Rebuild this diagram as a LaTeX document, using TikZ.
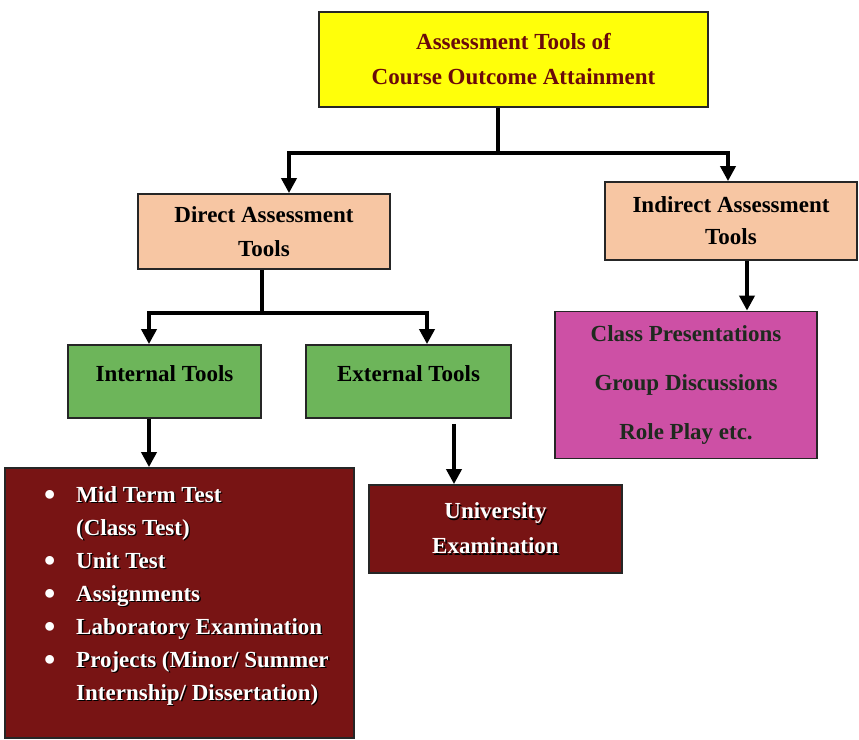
\documentclass[tikz,border=0pt]{standalone}
\usepackage{fontspec}
\setmainfont{Liberation Serif}
\usetikzlibrary{arrows.meta}
\definecolor{boxyellow}{HTML}{FFFF0A}
\definecolor{boxpeach}{HTML}{F7C6A3}
\definecolor{boxgreen}{HTML}{6DB55A}
\definecolor{boxmagenta}{HTML}{CD50A5}
\definecolor{boxdarkred}{HTML}{781414}
\definecolor{topred}{HTML}{6A0A0A}
\definecolor{darktext}{HTML}{1E2A1E}
\newcommand\shtxt[1]{\rlap{\kern1.3pt\raisebox{-1.3pt}{\color{black}#1}}#1}
\newcommand\bul{\makebox[32pt][l]{\raisebox{-3pt}{\scalebox{1.4}{•}}}}
\begin{document}
\begin{tikzpicture}[x=1pt,y=-1pt,
  box/.style={draw=black!85, line width=1.8pt, inner sep=0pt, align=center,
    font=\bfseries\fontsize{23}{34}\selectfont},
  conn/.style={line width=3.8pt, black},
  arr/.style={conn, -{Triangle[length=15pt,width=15pt]}}]
\useasboundingbox (0,0) rectangle (859,739);
\fill[white] (0,0) rectangle (859,739);

\node[box, fill=boxyellow, text=topred, minimum width=389pt, minimum height=95pt,
  font=\bfseries\fontsize{23}{35}\selectfont]
  (top) at (513.5,59.5) {Assessment Tools of\\Course Outcome Attainment};

\node[box, fill=boxpeach, minimum width=252pt, minimum height=75pt]
  (direct) at (264,231.5) {Direct Assessment\\Tools};
\node[box, fill=boxpeach, minimum width=252pt, minimum height=78pt,
  font=\bfseries\fontsize{23}{32}\selectfont]
  (indirect) at (731,221) {Indirect Assessment\\Tools};

\node[box, fill=boxgreen, minimum width=193pt, minimum height=73pt,
  text height=10pt, text depth=10pt]
  (internal) at (164.5,381.5) {Internal Tools};
\node[box, fill=boxgreen, minimum width=205pt, minimum height=73pt,
  text height=10pt, text depth=10pt]
  (external) at (408.5,381.5) {External Tools};

\node[box, fill=boxmagenta, text=darktext, minimum width=262pt, minimum height=147pt,
  font=\bfseries\fontsize{23}{49}\selectfont]
  (indlist) at (686,385) {Class Presentations\\Group Discussions\\Role Play etc.};

\node[box, fill=boxdarkred, minimum width=349pt, minimum height=270pt]
  (listbox) at (179.5,603) {};
\node[anchor=north west, inner sep=0pt, align=left, text=white,
  font=\bfseries\fontsize{23}{33}\selectfont]
  (listtext) at (44,486) {%
  \bul\shtxt{Mid Term Test}\\
  \hspace*{32pt}\shtxt{(Class Test)}\\
  \bul\shtxt{Unit Test}\\
  \bul\shtxt{Assignments}\\
  \bul\shtxt{Laboratory Examination}\\
  \bul\shtxt{Projects (Minor/ Summer}\\
  \hspace*{32pt}\shtxt{Internship/ Dissertation)}};

\node[box, fill=boxdarkred, text=white, minimum width=253pt, minimum height=88pt,
  font=\bfseries\fontsize{23}{35}\selectfont]
  (univ) at (495.5,529) {\shtxt{University}\\\shtxt{Examination}};

% connectors
\coordinate (tj) at (498,153);
\draw[conn] ([xshift=-15.5pt]top.south) -- (tj);
\draw[arr] (tj) -| ([xshift=25pt]direct.north);
\draw[arr] (tj) -| ([xshift=-3pt]indirect.north);

\coordinate (dj) at (262,313);
\draw[conn] ([xshift=-2pt]direct.south) -- (dj);
\draw[arr] (dj) -| ([xshift=-15.5pt]internal.north);
\draw[arr] (dj) -| ([xshift=18.5pt]external.north);

\draw[arr] ([xshift=-15.5pt]internal.south) -- ([xshift=-30.5pt]listbox.north);
\draw[arr] ([xshift=45.5pt,yshift=-5pt]external.south) -- ([xshift=-41.5pt]univ.north);
\draw[arr] ([xshift=16pt]indirect.south) -- ([xshift=61pt]indlist.north);
\end{tikzpicture}
\end{document}
